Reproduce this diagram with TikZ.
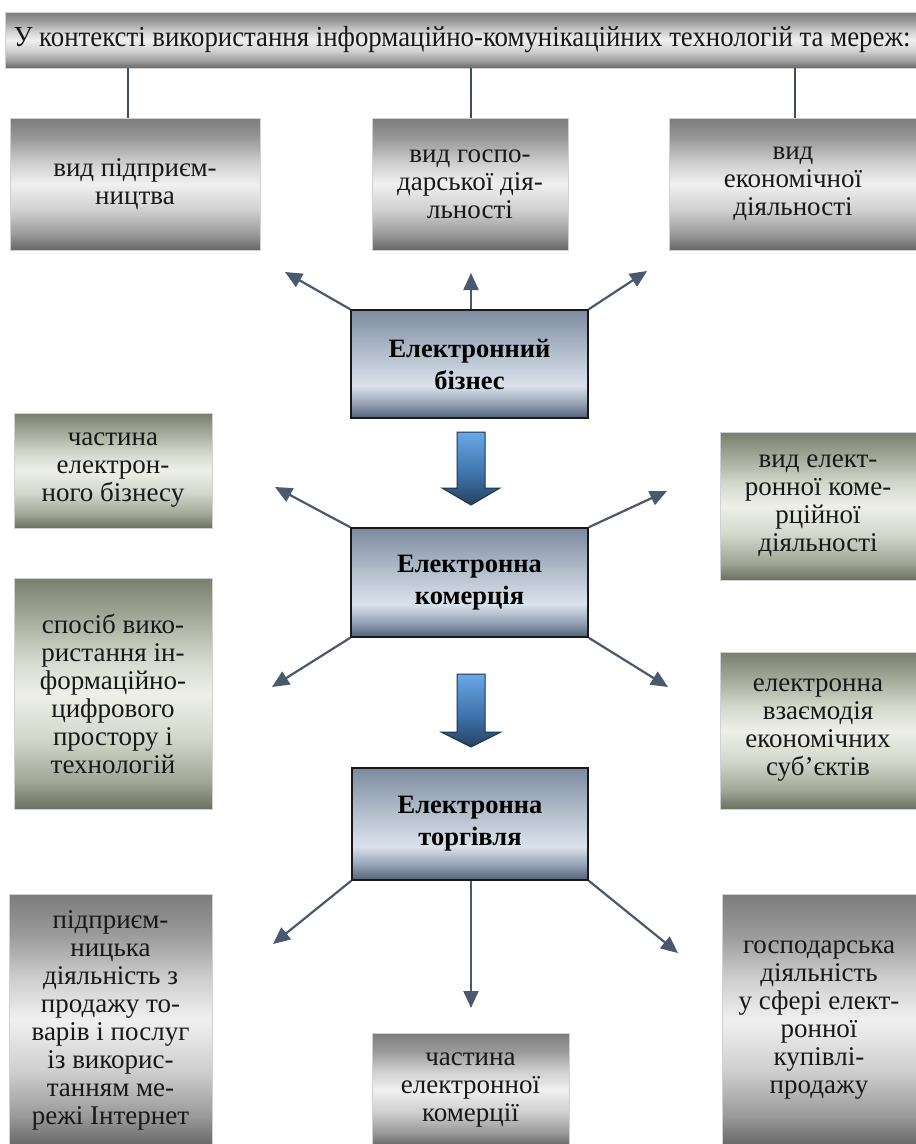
\documentclass[tikz,border=0pt]{standalone}
\usepackage{fontspec}
\usepackage{graphicx}
\setmainfont{Liberation Serif}
\usetikzlibrary{arrows.meta,calc}

\definecolor{gA}{HTML}{666666}
\definecolor{gB}{HTML}{9A9A9A}
\definecolor{gC}{HTML}{CFCFCF}
\definecolor{gD}{HTML}{F0F0F0}
\definecolor{gE}{HTML}{7C7C7C}
\definecolor{vA}{HTML}{6C7060}
\definecolor{vB}{HTML}{A2A696}
\definecolor{vC}{HTML}{D2D6CA}
\definecolor{vD}{HTML}{EEF0E8}
\definecolor{vE}{HTML}{7A7E6E}
\definecolor{bA}{HTML}{52617A}
\definecolor{bB}{HTML}{97A4B6}
\definecolor{bC}{HTML}{DAE2EC}
\definecolor{bD}{HTML}{B4BFCC}
\definecolor{bE}{HTML}{7D8BA0}
\definecolor{aA}{HTML}{27405E}
\definecolor{aB}{HTML}{3C70A8}
\definecolor{aC}{HTML}{6AA8E6}
\definecolor{lineC}{HTML}{4A596E}
\definecolor{vlineC}{HTML}{3E4D62}
\definecolor{txtC}{HTML}{181818}

\pgfdeclareverticalshading{grayshade}{100bp}{color(0bp)=(gA); color(25bp)=(gA); color(31bp)=(gB); color(40bp)=(gC); color(50bp)=(gD); color(58bp)=(gC); color(67bp)=(gB); color(75bp)=(gE); color(100bp)=(gE)}
\pgfdeclareverticalshading{greenshade}{100bp}{color(0bp)=(vA); color(25bp)=(vA); color(31bp)=(vB); color(40bp)=(vC); color(50bp)=(vD); color(58bp)=(vC); color(67bp)=(vB); color(75bp)=(vE); color(100bp)=(vE)}
\pgfdeclareverticalshading{blueshade}{100bp}{color(0bp)=(bA); color(25bp)=(bA); color(32bp)=(bB); color(40bp)=(bC); color(55bp)=(bD); color(75bp)=(bE); color(100bp)=(bE)}
\pgfdeclareverticalshading{arrowshade}{100bp}{color(0bp)=(aA); color(25bp)=(aA); color(45bp)=(aB); color(75bp)=(aC); color(100bp)=(aC)}

\newcommand\bxfont{\fontsize{27pt}{28pt}\selectfont}
\newcommand\mbxfont{\fontsize{26.5pt}{32pt}\selectfont\bfseries}

\begin{document}
\begin{tikzpicture}[x=1pt,y=-1pt,
  basebox/.style={inner sep=0pt, align=center, font=\bxfont, text=txtC},
  graybox/.style={basebox, shade, shading=grayshade, draw=black!18, line width=0.8pt},
  greenbox/.style={basebox, shade, shading=greenshade, draw=black!18, line width=0.8pt},
  mainbox/.style={basebox, shade, shading=blueshade, draw=black!90, line width=1.6pt, font=\mbxfont, text=black},
  conn/.style={draw=lineC, line width=2.2pt, -{Triangle[length=17pt,width=15pt]}},
  vline/.style={draw=vlineC, line width=2pt},
  blockarrow/.style={shade, shading=arrowshade, draw=aA!80!black, line width=1pt}
]
\useasboundingbox (0,0) rectangle (916,1144);
\fill[white] (0,0) rectangle (916,1144);

% top bar
\node[graybox, minimum width=914pt, minimum height=56pt] (bar) at (462,40)
  {\resizebox{897pt}{\height}{\fontsize{29pt}{30pt}\selectfont У контексті використання інформаційно-комунікаційних технологій та мереж:}};

% top row
\node[graybox, minimum width=250pt, minimum height=132pt] (t1) at (135,184) {вид підприєм-\\ництва};
\node[graybox, minimum width=196pt, minimum height=132pt] (t2) at (470,184) {вид госпо-\\дарської дія-\\льності};
\node[graybox, minimum width=248pt, minimum height=132pt] (t3) at (793,184) {вид\\економічної\\діяльності};

% central boxes
\node[mainbox, minimum width=237pt, minimum height=108pt] (eb) at (469.5,364) {Електронний\\бізнес};
\node[mainbox, minimum width=237pt, minimum height=109pt] (ek) at (469.5,582.5) {Електронна\\комерція};
\node[mainbox, minimum width=236pt, minimum height=112pt] (et) at (470,824) {Електронна\\торгівля};

% side boxes
\node[greenbox, minimum width=198pt, minimum height=115pt] (l1) at (113,470.5) {частина\\електрон-\\ного бізнесу};
\node[greenbox, minimum width=198pt, minimum height=231pt] (l2) at (113,693.5) {спосіб вико-\\ристання ін-\\формаційно-\\цифрового\\простору і\\технологій};
\node[greenbox, minimum width=196pt, minimum height=148pt] (r1) at (818,506) {вид елект-\\ронної коме-\\рційної\\діяльності};
\node[greenbox, minimum width=196pt, minimum height=157pt] (r2) at (818,730.5) {електронна\\взаємодія\\економічних\\суб’єктів};

% bottom boxes
\node[graybox, minimum width=203pt, minimum height=252pt] (b1) at (110.5,1020) {підприєм-\\ницька\\діяльність з\\продажу то-\\варів і послуг\\із викорис-\\танням ме-\\режі Інтернет};
\node[graybox, minimum width=197pt, minimum height=113pt] (b2) at (470.5,1089.5) {частина\\електронної\\комерції};
\node[graybox, minimum width=194pt, minimum height=252pt] (b3) at (819,1020) {господарська\\діяльність\\у сфері елект-\\ронної\\купівлі-\\продажу};

% lines from the bar
\draw[vline] ([xshift=-7pt]t1.north) -- ([xshift=-7pt]t1.north |- bar.south);
\draw[vline] ([xshift=1pt]t2.north) -- ([xshift=1pt]t2.north |- bar.south);
\draw[vline] ([xshift=2pt]t3.north) -- ([xshift=2pt]t3.north |- bar.south);

% free arrow ends
\coordinate (ebL) at (285,272);
\coordinate (ebM) at (471,273);
\coordinate (ebR) at (647,271);
\coordinate (ekUL) at (275,487);
\coordinate (ekUR) at (667,491);
\coordinate (ekDL) at (272,687);
\coordinate (ekDR) at (668,687);
\coordinate (etL) at (273,944);
\coordinate (etM) at (471,1008);
\coordinate (etR) at (678,953);

\draw[conn] (eb.north west) -- (ebL);
\draw[conn] ([xshift=1.5pt]eb.north) -- (ebM);
\draw[conn] (eb.north east) -- (ebR);
\draw[conn] (ek.north west) -- (ekUL);
\draw[conn] (ek.north east) -- (ekUR);
\draw[conn] (ek.south west) -- (ekDL);
\draw[conn] (ek.south east) -- (ekDR);
\draw[conn] (et.south west) -- (etL);
\draw[conn] ([xshift=1pt]et.south) -- (etM);
\draw[conn] (et.south east) -- (etR);

% block arrows
\path[blockarrow] (457,432) -- (485,432) -- (485,488) -- (500,488) -- (471,505) -- (442,488) -- (457,488) -- cycle;
\path[blockarrow] (457,674) -- (485,674) -- (485,732) -- (501,732) -- (471,747) -- (441,732) -- (457,732) -- cycle;
\end{tikzpicture}
\end{document}
